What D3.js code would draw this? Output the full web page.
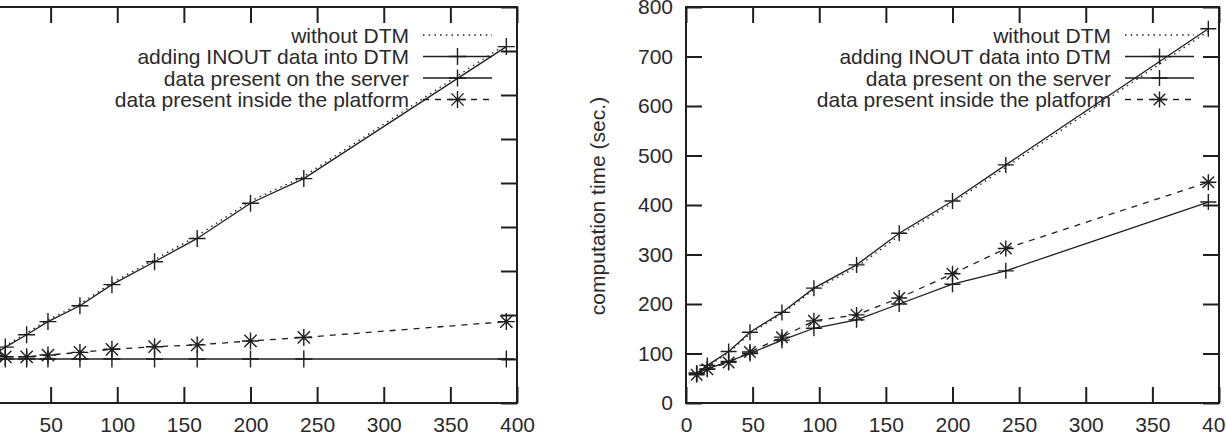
<!DOCTYPE html>
<html>
<head>
<meta charset="utf-8">
<script src="https://cdn.jsdelivr.net/npm/d3@7"></script>
<style>
  html, body { margin: 0; padding: 0; background: #fff; }
  svg { display: block; }
  text { font-family: "Liberation Sans", Arial, sans-serif; font-size: 21px; fill: #2a2a2a; }
</style>
</head>
<body>
<svg id="area" width="1226" height="437"></svg>
<script>
// number of processors (x) shared by both plots
const procs = [8, 16, 32, 48, 72, 96, 128, 160, 200, 240, 392];

// left plot (y labels are cut off in the original)
const leftNoDtm = [114, 130, 159, 189, 225, 273, 326, 380, 459, 515, 816];
const leftInout = [112, 127, 155, 185, 221, 269, 321, 374, 454, 510, 810];
const leftServer = [100, 100, 100, 100, 100, 100, 100, 100, 100, 100, 100];
const leftPlatform = [108, 105, 105, 109, 115, 122, 128, 132, 141, 149, 185];

// right plot
const rightNoDtm = [58, 74, 101, 140, 180, 229, 274, 338, 404, 476, 751];
const rightInout = [60, 76, 104, 143, 183, 232, 279, 343, 408, 481, 756];
const rightServer = [60, 69, 84, 100, 127, 151, 168, 200, 240, 267, 406];
const rightPlatform = [57, 68, 82, 103, 133, 166, 178, 212, 261, 312, 446];

const xTicks = [0, 50, 100, 150, 200, 250, 300, 350, 400];
const legendLabels = [
  'without DTM',
  'adding INOUT data into DTM',
  'data present on the server',
  'data present inside the platform',
];
const yLabel = 'computation time (sec.)';

const svg = d3.select('#area');
const ink = '#1e1e1e';

function marker(g, kind, x, y, r) {
  const p = d3.path();
  p.moveTo(x - r, y); p.lineTo(x + r, y);
  p.moveTo(x, y - r); p.lineTo(x, y + r);
  if (kind === 'star') {
    const d = r * 0.72;
    p.moveTo(x - d, y - d); p.lineTo(x + d, y + d);
    p.moveTo(x - d, y + d); p.lineTo(x + d, y - d);
  }
  g.append('path').attr('d', p.toString())
    .attr('stroke', ink).attr('stroke-width', 1.4).attr('fill', 'none');
}

function drawPanel(opts) {
  const x = d3.scaleLinear().domain([0, 400]).range([opts.left, opts.right]);
  const y = d3.scaleLinear().domain([0, opts.yMax]).range([403, 7]);
  const g = svg.append('g');

  const series = [
    { values: opts.noDtm, dash: '1.5,4.2', mark: null },
    { values: opts.inout, dash: null, mark: 'plus' },
    { values: opts.server, dash: null, mark: 'plus' },
    { values: opts.platform, dash: '6,6', mark: 'star' },
  ];

  const line = d3.line().x((d, i) => x(procs[i])).y((d) => y(d));

  series.forEach((s) => {
    g.append('path')
      .datum(s.values)
      .attr('d', line)
      .attr('fill', 'none')
      .attr('stroke', ink)
      .attr('stroke-width', 1.3)
      .attr('stroke-dasharray', s.dash);
    if (s.mark) {
      s.values.forEach((v, i) => marker(g, s.mark, x(procs[i]), y(v), opts.mr));
    }
  });

  // axes, gnuplot style ticks pointing inwards on all four sides
  const yTicks = d3.range(0, opts.yMax + 1, 100);
  const bottom = g.append('g').attr('transform', 'translate(0,403)')
    .call(d3.axisBottom(x).tickValues(xTicks.filter((t) => x(t) > 0))
      .tickSizeInner(-16).tickSizeOuter(0).tickPadding(14));
  g.append('g').attr('transform', 'translate(0,7)')
    .call(d3.axisTop(x).tickValues(xTicks).tickSizeInner(-16).tickSizeOuter(0).tickFormat(''));
  const leftAxis = g.append('g').attr('transform', `translate(${opts.left},0)`)
    .call(d3.axisLeft(y).tickValues(yTicks).tickSizeInner(-16).tickSizeOuter(0).tickPadding(13)
      .tickFormat(opts.showY ? d3.format('d') : ''));
  g.append('g').attr('transform', `translate(${opts.right},0)`)
    .call(d3.axisRight(y).tickValues(yTicks).tickSizeInner(-16).tickSizeOuter(0).tickFormat(''));

  g.selectAll('.tick line').attr('stroke', ink).attr('stroke-width', 2);
  g.selectAll('.domain').remove();
  bottom.selectAll('text').attr('font-size', 21).attr('fill', '#2a2a2a');
  leftAxis.selectAll('text').attr('font-size', 21).attr('fill', '#2a2a2a');
  g.selectAll('.tick text').style('font-family', '"Liberation Sans", Arial, sans-serif');

  g.append('rect')
    .attr('x', opts.left).attr('y', 7)
    .attr('width', opts.right - opts.left).attr('height', 396)
    .attr('fill', 'none').attr('stroke', ink).attr('stroke-width', 2);

  // legend, top right
  const sampleEnd = opts.right - 25;
  const sampleStart = sampleEnd - 69;
  const legend = g.append('g');
  legendLabels.forEach((label, i) => {
    const ly = 35 + i * 21.5;
    const s = series[i];
    legend.append('text')
      .attr('x', sampleStart - 14).attr('y', ly + 7.5)
      .attr('text-anchor', 'end')
      .text(label);
    legend.append('line')
      .attr('x1', sampleStart).attr('x2', sampleEnd)
      .attr('y1', ly).attr('y2', ly)
      .attr('stroke', ink).attr('stroke-width', 1.3)
      .attr('stroke-dasharray', s.dash);
    if (s.mark) marker(legend, s.mark, (sampleStart + sampleEnd) / 2, ly, opts.mr);
  });

  if (opts.showY) {
    g.append('text')
      .attr('transform', `translate(${opts.left - 88},206) rotate(-90)`)
      .attr('text-anchor', 'middle')
      .attr('dy', '0.35em')
      .text(yLabel);
  }
}

drawPanel({
  left: -16, right: 517, yMax: 900, showY: false, mr: 8.5,
  noDtm: leftNoDtm, inout: leftInout, server: leftServer, platform: leftPlatform,
});

drawPanel({
  left: 686, right: 1219, yMax: 800, showY: true, mr: 8,
  noDtm: rightNoDtm, inout: rightInout, server: rightServer, platform: rightPlatform,
});
</script>
</body>
</html>
